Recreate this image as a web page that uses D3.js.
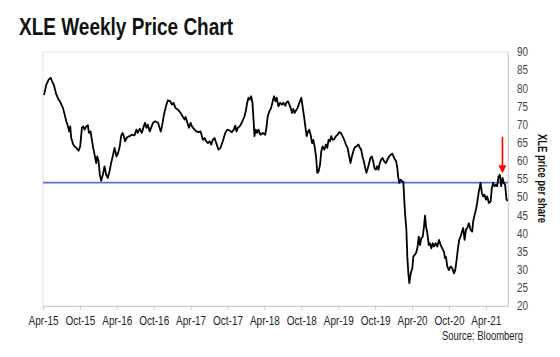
<!DOCTYPE html>
<html>
<head>
<meta charset="utf-8">
<script src="https://cdnjs.cloudflare.com/ajax/libs/d3/7.8.5/d3.min.js"></script>
<style>
html,body{margin:0;padding:0;background:#fff;}
svg{display:block;}
text{font-family:"Liberation Sans Narrow","Arial Narrow","Liberation Sans",Arial,sans-serif;}
</style>
</head>
<body>
<svg id="chart" width="560" height="357"></svg>
<script>
// ---- data (decimal year, XLE weekly close) ----
const dates = [2015.264,2015.295,2015.327,2015.354,2015.372,2015.399,2015.430,2015.462,2015.489,2015.520,2015.543,2015.565,2015.588,2015.605,2015.619,2015.632,2015.646,2015.659,2015.678,2015.700,2015.732,2015.754,2015.777,2015.795,2015.814,2015.835,2015.858,2015.872,2015.895,2015.912,2015.930,2015.949,2015.970,2015.984,2016.003,2016.020,2016.038,2016.061,2016.084,2016.105,2016.128,2016.151,2016.173,2016.200,2016.219,2016.246,2016.268,2016.290,2016.308,2016.327,2016.345,2016.362,2016.389,2016.422,2016.453,2016.489,2016.516,2016.534,2016.561,2016.588,2016.615,2016.632,2016.651,2016.669,2016.696,2016.714,2016.741,2016.768,2016.808,2016.845,2016.862,2016.889,2016.922,2016.943,2016.976,2016.997,2017.020,2017.043,2017.078,2017.115,2017.146,2017.169,2017.182,2017.205,2017.227,2017.250,2017.268,2017.295,2017.327,2017.358,2017.385,2017.403,2017.416,2017.439,2017.462,2017.484,2017.507,2017.530,2017.551,2017.574,2017.597,2017.628,2017.655,2017.686,2017.719,2017.746,2017.777,2017.808,2017.835,2017.854,2017.872,2017.889,2017.916,2017.943,2017.962,2017.980,2017.997,2018.016,2018.034,2018.051,2018.070,2018.088,2018.105,2018.115,2018.132,2018.151,2018.169,2018.196,2018.227,2018.260,2018.277,2018.295,2018.318,2018.341,2018.362,2018.381,2018.399,2018.416,2018.439,2018.462,2018.489,2018.507,2018.534,2018.551,2018.570,2018.588,2018.605,2018.624,2018.642,2018.659,2018.678,2018.700,2018.723,2018.750,2018.767,2018.786,2018.804,2018.822,2018.841,2018.858,2018.876,2018.895,2018.912,2018.930,2018.949,2018.966,2018.984,2019.003,2019.020,2019.038,2019.061,2019.084,2019.101,2019.119,2019.138,2019.155,2019.173,2019.196,2019.219,2019.241,2019.264,2019.286,2019.308,2019.331,2019.354,2019.376,2019.399,2019.416,2019.435,2019.453,2019.470,2019.497,2019.524,2019.543,2019.561,2019.578,2019.597,2019.615,2019.632,2019.651,2019.669,2019.686,2019.705,2019.723,2019.741,2019.759,2019.777,2019.795,2019.813,2019.831,2019.849,2019.872,2019.895,2019.916,2019.939,2019.962,2019.984,2020.007,2020.034,2020.051,2020.061,2020.078,2020.097,2020.119,2020.132,2020.142,2020.155,2020.173,2020.186,2020.200,2020.213,2020.232,2020.254,2020.267,2020.286,2020.304,2020.322,2020.341,2020.358,2020.376,2020.395,2020.412,2020.426,2020.439,2020.457,2020.476,2020.493,2020.511,2020.530,2020.547,2020.570,2020.592,2020.615,2020.638,2020.659,2020.682,2020.696,2020.709,2020.727,2020.750,2020.773,2020.795,2020.818,2020.835,2020.854,2020.872,2020.889,2020.908,2020.926,2020.943,2020.962,2020.980,2020.997,2021.020,2021.043,2021.065,2021.078,2021.097,2021.115,2021.132,2021.155,2021.178,2021.196,2021.214,2021.232,2021.250,2021.268,2021.291,2021.314,2021.331,2021.349,2021.368,2021.386,2021.403,2021.422,2021.439,2021.457,2021.476,2021.493,2021.511,2021.530,2021.547];
const prices = [78.1,81.0,82.4,82.9,82.0,80.8,78.3,76.9,76.0,74.6,72.8,70.9,69.5,68.1,69.5,66.3,65.4,64.5,64.0,63.6,62.8,64.0,69.1,69.5,68.6,69.5,69.8,67.7,68.1,65.8,63.6,61.7,59.4,61.2,59.9,56.2,54.5,56.2,58.5,56.2,55.3,57.1,59.4,61.7,63.6,61.2,62.2,64.0,66.8,67.7,66.8,65.4,66.5,66.8,67.2,67.0,68.6,67.7,68.9,67.7,69.5,70.5,69.1,70.0,68.1,69.1,70.5,70.9,70.5,68.1,69.5,72.8,75.5,76.7,76.4,75.5,76.0,74.6,74.1,73.2,72.1,71.4,72.1,70.6,69.1,70.5,69.5,68.8,68.1,67.9,68.1,66.8,65.8,66.3,65.4,64.9,65.4,64.5,65.8,66.3,64.9,63.1,63.6,65.4,67.7,68.6,68.4,67.9,68.6,69.7,68.1,69.1,69.5,70.5,71.4,72.3,73.7,76.0,77.4,76.9,77.8,76.0,70.5,66.8,68.6,67.7,68.6,67.2,67.7,67.2,69.1,72.3,73.7,74.6,76.4,77.8,76.4,77.4,75.0,76.0,75.5,76.0,75.2,76.2,76.4,75.5,74.6,73.2,74.3,73.2,73.9,74.6,76.0,77.4,75.0,72.3,69.5,66.8,68.1,68.6,67.2,64.9,65.8,64.0,61.2,56.7,57.1,58.9,62.6,64.0,63.1,64.5,63.6,65.8,65.4,66.8,65.8,66.0,66.8,67.2,67.9,67.7,66.8,65.8,64.5,63.6,61.2,59.4,61.2,62.6,63.6,64.0,64.5,63.6,63.1,61.2,59.9,58.0,56.7,58.0,59.4,60.8,61.2,59.9,58.0,57.6,58.5,57.6,59.4,60.3,60.8,59.9,59.4,60.3,61.2,61.7,62.0,60.8,59.9,58.0,55.7,53.9,54.8,54.3,54.3,50.2,45.6,41.0,33.6,29.0,26.3,29.0,30.4,33.6,34.1,34.6,35.9,39.1,36.8,38.7,39.1,41.9,44.9,41.9,40.1,36.8,37.3,35.9,37.3,36.4,37.3,36.4,38.2,36.8,35.9,35.0,33.2,33.6,30.9,29.9,30.9,30.4,29.0,29.9,32.7,35.9,38.2,39.1,40.5,41.5,38.2,41.0,41.5,42.8,41.0,40.5,43.3,45.1,46.5,48.4,51.6,53.9,51.1,50.2,50.7,49.3,50.2,48.4,48.8,52.5,53.9,53.0,53.4,53.0,55.7,56.2,53.0,55.3,53.9,53.4,49.3,49.0];
const tickDates = [2015.25,2015.75,2016.25,2016.75,2017.25,2017.75,2018.25,2018.75,2019.25,2019.75,2020.25,2020.75,2021.25];
const tickLabels = ["Apr-15","Oct-15","Apr-16","Oct-16","Apr-17","Oct-17","Apr-18","Oct-18","Apr-19","Oct-19","Apr-20","Oct-20","Apr-21"];
const yTicks = [20,25,30,35,40,45,50,55,60,65,70,75,80,85,90];
const supportLevel = 54;
const arrowAt = {date: 2021.475, from: 66.6, to: 56.6};
const title = "XLE Weekly Price Chart";
const yTitle = "XLE price per share";
const source = "Source: Bloomberg";

// ---- chart ----
const FONT = '"Liberation Sans Narrow","Arial Narrow","Liberation Sans",Arial,sans-serif';
const svg = d3.select("#chart");
const m = {left: 43, right: 508, top: 52, bottom: 306};
const x = d3.scaleLinear().domain([2015.25, 2021.55]).range([m.left, m.right]);
const y = d3.scaleLinear().domain([20, 90]).range([m.bottom, m.top]);

// frame
svg.append("rect").attr("x", m.left).attr("y", m.top)
  .attr("width", m.right - m.left).attr("height", m.bottom - m.top)
  .attr("fill", "none").attr("stroke", "#e3e3e3").attr("stroke-width", 1);

// x axis
const xAxis = svg.append("g").attr("transform", `translate(0,${m.bottom})`)
  .call(d3.axisBottom(x).tickValues(tickDates).tickFormat((d, i) => tickLabels[i]).tickSize(4).tickPadding(6));
xAxis.select(".domain").attr("stroke", "#d0d0d0").attr("d", `M${m.left},0.5H${m.right}`);
xAxis.selectAll(".tick line").attr("stroke", "#c8c8c8");
xAxis.selectAll(".tick text").attr("fill", "#222").attr("font-size", 13)
  .attr("font-family", FONT)
  .attr("textLength", 30).attr("lengthAdjust", "spacingAndGlyphs");

// y axis (right)
const yAxis = svg.append("g").attr("transform", `translate(${m.right},0)`)
  .call(d3.axisRight(y).tickValues(yTicks).tickSize(0).tickPadding(9));
yAxis.select(".domain").attr("stroke", "#d0d0d0");
yAxis.selectAll(".tick text").attr("fill", "#444").attr("font-size", 12)
  .attr("font-family", FONT)
  .attr("textLength", 11).attr("lengthAdjust", "spacingAndGlyphs");

// support line
svg.append("line").attr("x1", m.left).attr("x2", m.right)
  .attr("y1", y(supportLevel)).attr("y2", y(supportLevel))
  .attr("stroke", "#4a7bd0").attr("stroke-width", 1.6);

// price line
const data = dates.map((d, i) => ({d, v: prices[i]}));
svg.append("path").datum(data)
  .attr("fill", "none").attr("stroke", "#000").attr("stroke-width", 1.8)
  .attr("stroke-linejoin", "round")
  .attr("d", d3.line().x(p => x(p.d)).y(p => y(p.v)));

// red arrow
const ax = x(arrowAt.date), ay1 = y(arrowAt.from), ay2 = y(arrowAt.to);
svg.append("line").attr("x1", ax).attr("x2", ax).attr("y1", ay1).attr("y2", ay2 - 6)
  .attr("stroke", "#ff0000").attr("stroke-width", 1.6);
svg.append("path").attr("d", `M${ax-4},${ay2-8}L${ax+4},${ay2-8}L${ax},${ay2}Z`).attr("fill", "#ff0000");

// title
svg.append("text").attr("x", 19).attr("y", 35).text(title)
  .attr("font-size", 23).attr("font-weight", "bold").attr("fill", "#111")
  .attr("textLength", 214).attr("lengthAdjust", "spacingAndGlyphs");

// y title
svg.append("text").attr("transform", `translate(538,178.5) rotate(90)`)
  .attr("text-anchor", "middle").text(yTitle)
  .attr("font-size", 13).attr("font-weight", "bold").attr("fill", "#111")
  .attr("textLength", 89).attr("lengthAdjust", "spacingAndGlyphs");

// source
svg.append("text").attr("x", 523).attr("y", 340).attr("text-anchor", "end").text(source)
  .attr("font-size", 13).attr("fill", "#222")
  .attr("textLength", 81).attr("lengthAdjust", "spacingAndGlyphs");
</script>
</body>
</html>
